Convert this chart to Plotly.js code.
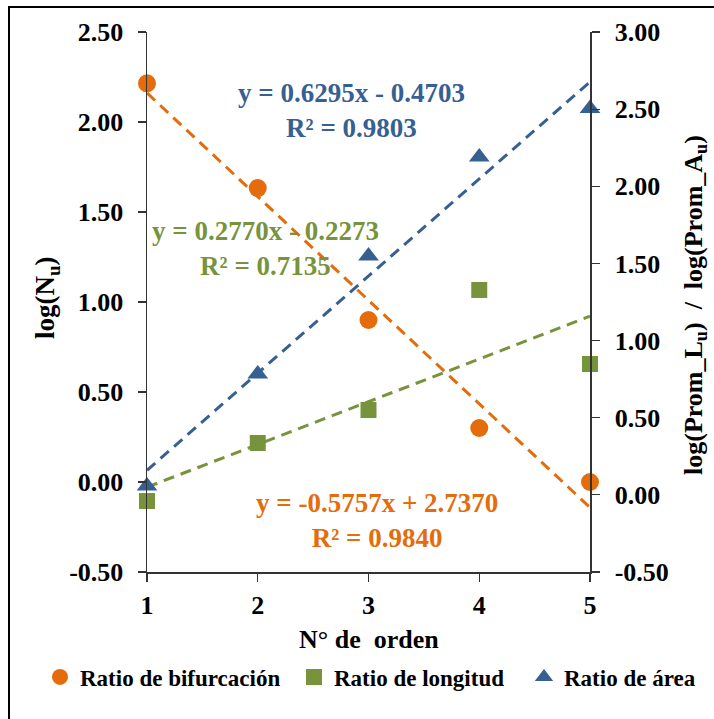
<!DOCTYPE html>
<html>
<head>
<meta charset="utf-8">
<script src="https://cdn.plot.ly/plotly-3.0.1.min.js"></script>
<style>html,body{margin:0;padding:0;background:#fff;}#chart{width:714px;height:719px;}</style>
</head>
<body>
<div id="chart"></div>
<script>
// ---- data ----
const orders = [1, 2, 3, 4, 5];
const bifurcacion = [2.215, 1.633, 0.90, 0.30, 0.00];   // left axis
const longitud = [-0.04, 0.336, 0.55, 1.328, 0.848];     // right axis
const area = [0.058, 0.784, 1.548, 2.19, 2.504];         // right axis
const seriesNames = ["Ratio de bifurcación", "Ratio de longitud", "Ratio de área"];
// trendline coefficients [slope, intercept, R²] as printed on the chart
const fitBif = [-0.5757, 2.7370, 0.9840];
const fitLon = [0.2770, -0.2273, 0.7135];
const fitArea = [0.6295, -0.4703, 0.9803];
const leftTicks = [-0.5, 0, 0.5, 1, 1.5, 2, 2.5];
const rightTicks = [-0.5, 0, 0.5, 1, 1.5, 2, 2.5, 3];

const cOrange = "#E46C0A", cGreen = "#77933C", cBlue = "#376092";
const FF = "Liberation Serif";

function fitLine(fit) { return orders.map(x => fit[0] * x + fit[1]); }
function fmt(v) { return v.toFixed(4); }
function eqText(fit) {
  const sign = fit[1] < 0 ? " - " : " + ";
  return "y = " + fmt(fit[0]) + "x" + sign + fmt(Math.abs(fit[1])) + "<br>R² = " + fmt(fit[2]);
}

const dash = "11px,7px";
const traces = [
  {x: orders, y: fitLine(fitBif), mode: "lines", line: {color: cOrange, width: 3, dash: dash}, showlegend: false, yaxis: "y", hoverinfo: "skip", cliponaxis: false},
  {x: orders, y: fitLine(fitLon), mode: "lines", line: {color: cGreen, width: 3, dash: dash}, showlegend: false, yaxis: "y2", hoverinfo: "skip", cliponaxis: false},
  {x: orders, y: fitLine(fitArea), mode: "lines", line: {color: cBlue, width: 3, dash: dash}, showlegend: false, yaxis: "y2", hoverinfo: "skip", cliponaxis: false},
  {x: orders, y: bifurcacion, name: seriesNames[0], legend: "legend", mode: "markers", marker: {symbol: "circle", size: 18, color: cOrange}, yaxis: "y", cliponaxis: false},
  {x: orders, y: longitud, name: seriesNames[1], legend: "legend2", mode: "markers", marker: {symbol: "square", size: 16, color: cGreen}, yaxis: "y2", cliponaxis: false},
  {x: orders, y: area, name: seriesNames[2], legend: "legend3", mode: "markers", marker: {symbol: "triangle-up", size: 18, color: cBlue}, yaxis: "y2", cliponaxis: false}
];

const tickFont = {family: FF, size: 26, color: "#000", weight: "bold"};
const axisCommon = {
  showgrid: false, zeroline: false, showline: true, linecolor: "#333", linewidth: 1.5,
  ticks: "outside", ticklen: 8, tickcolor: "#333", tickwidth: 1.2, tickfont: tickFont, automargin: false
};

function legendAt(left) {
  return {orientation: "h", xref: "container", yref: "container", x: left / 714, xanchor: "left", y: 1 - 677 / 719, yanchor: "middle",
    font: {family: FF, size: 23, color: "#000", weight: "bold"}, itemwidth: 30, bgcolor: "rgba(0,0,0,0)", borderwidth: 0};
}

const layout = {
  width: 714, height: 719,
  margin: {l: 147, r: 124, t: 32, b: 147, autoexpand: false},
  paper_bgcolor: "#fff", plot_bgcolor: "#fff",
  font: {family: FF, color: "#000"},
  xaxis: Object.assign({}, axisCommon, {range: [1, 5], tickvals: orders, ticktext: orders.map(String), ticklabelstandoff: 1}),
  yaxis: Object.assign({}, axisCommon, {range: [-0.5, 2.5], tickvals: leftTicks, ticktext: leftTicks.map(v => v.toFixed(2)), ticklabelstandoff: 9}),
  yaxis2: Object.assign({}, axisCommon, {range: [-0.5, 3.0], overlaying: "y", side: "right", tickvals: rightTicks, ticktext: rightTicks.map(v => v.toFixed(2)), ticklabelstandoff: 10}),
  showlegend: true,
  legend: legendAt(40),
  legend2: legendAt(294),
  legend3: legendAt(524),
  annotations: [
    {xref: "paper", yref: "paper", x: 0.5, y: (572 - 639) / 540, text: "N° de  orden", showarrow: false,
      font: {family: FF, size: 26, weight: "bold"}, xanchor: "center", yanchor: "middle"},
    {xref: "paper", yref: "paper", x: (47 - 147) / 443, y: (572 - 298) / 540, text: "log(N<sub>u</sub>)", showarrow: false, textangle: -90,
      font: {family: FF, size: 27, weight: "bold"}, xanchor: "center", yanchor: "middle"},
    {xref: "paper", yref: "paper", x: (695 - 147) / 443, y: (572 - 305) / 540, text: "log(Prom_L<sub>u</sub>)  /  log(Prom_A<sub>u</sub>)", showarrow: false, textangle: -90,
      font: {family: FF, size: 26, weight: "bold"}, xanchor: "center", yanchor: "middle"},
    {xref: "paper", yref: "paper", x: (351 - 147) / 443, y: (572 - 110) / 540, text: eqText(fitArea), showarrow: false,
      font: {family: FF, size: 27, color: cBlue, weight: "bold"}, align: "center", xanchor: "center", yanchor: "middle"},
    {xref: "paper", yref: "paper", x: (265 - 147) / 443, y: (572 - 248) / 540, text: eqText(fitLon), showarrow: false,
      font: {family: FF, size: 27, color: cGreen, weight: "bold"}, align: "center", xanchor: "center", yanchor: "middle"},
    {xref: "paper", yref: "paper", x: (377 - 147) / 443, y: (572 - 520) / 540, text: eqText(fitBif), showarrow: false,
      font: {family: FF, size: 27, color: cOrange, weight: "bold"}, align: "center", xanchor: "center", yanchor: "middle"}
  ],
  shapes: [
    {type: "rect", xref: "paper", yref: "paper", x0: (9 - 147) / 443, x1: 1.6, y0: -0.6, y1: (572 - 7) / 540,
      line: {color: "#000", width: 2}, fillcolor: "rgba(0,0,0,0)", layer: "below"}
  ]
};

Plotly.newPlot("chart", traces, layout, {displayModeBar: false, staticPlot: true});
</script>
</body>
</html>
